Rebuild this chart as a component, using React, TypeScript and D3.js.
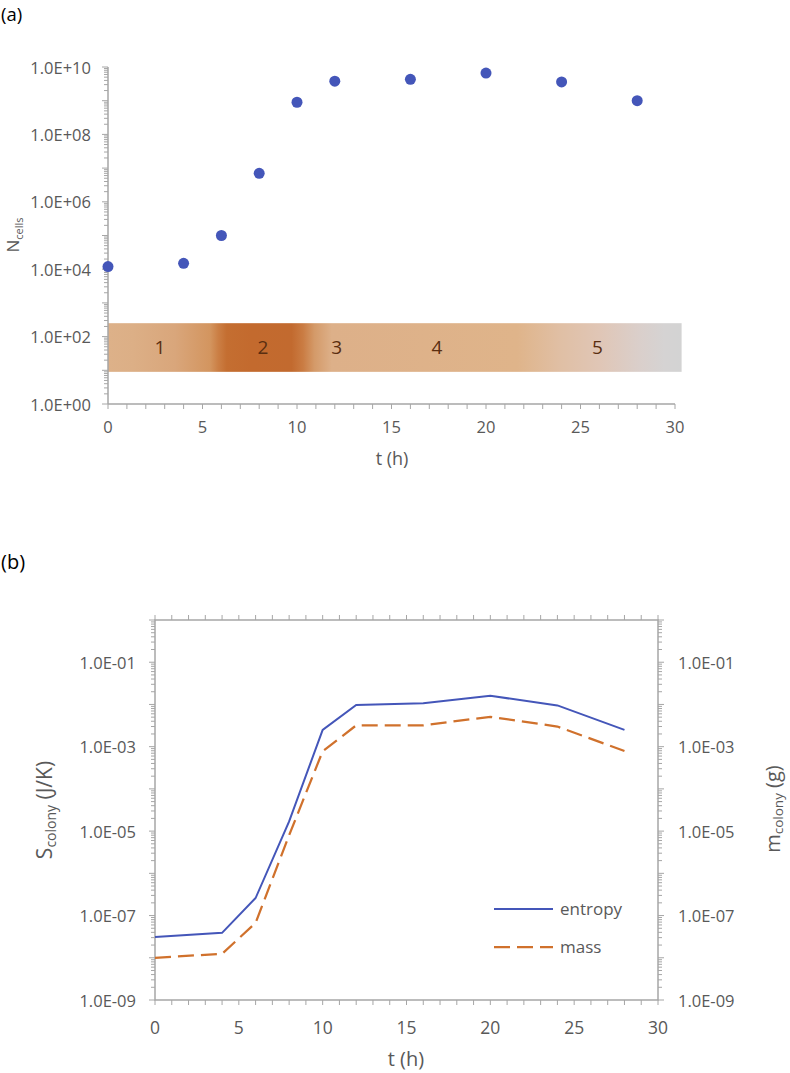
import React from "react";
import * as d3 from "d3";

// ---------- data ----------
const timesA = [0, 4, 6, 8, 10, 12, 16, 20, 24, 28];
const nCells = [1.2e4, 1.5e4, 1.0e5, 7.0e6, 9.0e8, 3.8e9, 4.3e9, 6.6e9, 3.6e9, 1.0e9];

const timesB = [0, 4, 6, 8, 10, 12, 16, 20, 24, 28];
const entropy = [3.1e-8, 3.9e-8, 2.6e-7, 1.7e-5, 2.5e-3, 9.7e-3, 1.07e-2, 1.6e-2, 9.5e-3, 2.5e-3];
const mass = [1.0e-8, 1.24e-8, 6.7e-8, 8.0e-6, 7.8e-4, 3.2e-3, 3.2e-3, 5.1e-3, 3.0e-3, 7.9e-4];

const xTicks = [0, 5, 10, 15, 20, 25, 30];
const yTicksA = [1, 1e2, 1e4, 1e6, 1e8, 1e10];
const yTicksB = [1e-9, 1e-7, 1e-5, 1e-3, 1e-1];

const phaseLabels = ["1", "2", "3", "4", "5"];
const phaseTimes = [2.75, 8.2, 12.1, 17.4, 25.9];
const phaseLabelValue = 49;
const bandRange = { t0: 0, t1: 30.35, top: 250, bottom: 9 };
const bandStops: [number, string][] = [
  [0, "#DDB189"],
  [0.044, "#DCAF86"],
  [0.117, "#D9A67B"],
  [0.178, "#D3955F"],
  [0.192, "#CB7F45"],
  [0.207, "#C46E31"],
  [0.25, "#C36A2E"],
  [0.32, "#C26A2F"],
  [0.34, "#CA7C43"],
  [0.36, "#D49A69"],
  [0.39, "#DDB089"],
  [0.713, "#DFB48A"],
  [0.787, "#E0BFA4"],
  [0.857, "#E0C6B6"],
  [0.927, "#DACFCB"],
  [0.97, "#D5D3D3"],
  [1, "#D3D3D3"],
];

const FONT = "'Open Sans', Lato, sans-serif";
const AXIS = "#A6A6A6";
const TXT = "#595959";
const BLUE = "#4456B9";
const ORANGE = "#D0712C";

const fmtE = (v: number) => {
  const e = Math.round(Math.log10(v));
  return "1.0E" + (e < 0 ? "-" : "+") + String(Math.abs(e)).padStart(2, "0");
};

function logMinor(lo: number, hi: number) {
  const out: { v: number; major: boolean }[] = [];
  for (let k = Math.round(Math.log10(lo)); k <= Math.round(Math.log10(hi)); k++) {
    for (let d = 1; d <= 9; d++) {
      const v = d * Math.pow(10, k);
      if (v >= lo * 0.999 && v <= hi * 1.001) out.push({ v, major: d === 1 });
    }
  }
  return out;
}

export default function App() {
  // ---- chart A ----
  const xA = d3.scaleLinear().domain([0, 30]).range([108, 675]);
  const yA = d3.scaleLog().domain([1, 1e10]).range([404, 67]);
  // ---- chart B ----
  const xB = d3.scaleLinear().domain([0, 30]).range([155, 658]);
  const yB = d3.scaleLog().domain([1e-9, 1]).range([1000, 620]);

  const lineB = d3
    .line<number>()
    .x((_, i) => xB(timesB[i]))
    .y((d) => yB(d));

  const hourTicks = d3.range(0, 31, 1);
  const minorA = logMinor(1, 1e10);
  const minorB = logMinor(1e-9, 1);

  return (
    <svg
      width={790}
      height={1073}
      style={{ position: "absolute", left: 0, top: 0, display: "block" }}
      fontFamily={FONT}
    >
      <defs>
        <linearGradient id="band" x1="0" x2="1" y1="0" y2="0">
          {bandStops.map(([o, c], i) => (
            <stop key={i} offset={o} stopColor={c} />
          ))}
        </linearGradient>
      </defs>
      <rect width={790} height={1073} fill="#fff" />

      {/* ================= (a) ================= */}
      <text x={1} y={21} fontSize={18.5} fill="#000">(a)</text>

      {/* band */}
      <rect
        x={xA(bandRange.t0)}
        y={yA(bandRange.top)}
        width={xA(bandRange.t1) - xA(bandRange.t0)}
        height={yA(bandRange.bottom) - yA(bandRange.top)}
        fill="url(#band)"
      />
      {phaseLabels.map((l, i) => (
        <text
          key={l}
          x={xA(phaseTimes[i])}
          y={yA(phaseLabelValue)}
          fontSize={19}
          fill="#5A2E10"
          textAnchor="middle"
          dominantBaseline="central"
        >
          {l}
        </text>
      ))}

      {/* y axis A */}
      <line x1={108} x2={108} y1={yA(1e10)} y2={yA(1)} stroke={AXIS} strokeWidth={1.5} />
      {minorA.map((t, i) => (
        <line
          key={i}
          x1={108}
          x2={108 - (t.major ? 6 : 4)}
          y1={yA(t.v)}
          y2={yA(t.v)}
          stroke={AXIS}
          strokeWidth={1}
        />
      ))}
      {yTicksA.map((v) => (
        <text
          key={v}
          x={91}
          y={yA(v)}
          fontSize={16.5}
          fill={TXT}
          textAnchor="end"
          dominantBaseline="central"
        >
          {fmtE(v)}
        </text>
      ))}
      <text
        transform={`translate(19, ${235}) rotate(-90)`}
        fontSize={17}
        fill={TXT}
        textAnchor="middle"
      >
        N<tspan fontSize={11} dy={4}>cells</tspan>
      </text>

      {/* x axis A */}
      <line x1={xA(0)} x2={xA(30)} y1={yA(1)} y2={yA(1)} stroke={AXIS} strokeWidth={1.5} />
      {hourTicks.map((t) => (
        <line
          key={t}
          x1={xA(t)}
          x2={xA(t)}
          y1={yA(1)}
          y2={yA(1) + 5}
          stroke={AXIS}
          strokeWidth={1}
        />
      ))}
      {xTicks.map((t) => (
        <text
          key={t}
          x={xA(t)}
          y={426}
          fontSize={16.5}
          fill={TXT}
          textAnchor="middle"
          dominantBaseline="central"
        >
          {t}
        </text>
      ))}
      <text x={392} y={458} fontSize={18} fill={TXT} textAnchor="middle" dominantBaseline="central">
        t (h)
      </text>

      {/* points */}
      {nCells.map((v, i) => (
        <circle key={i} cx={xA(timesA[i])} cy={yA(v)} r={5.5} fill={BLUE} />
      ))}

      {/* ================= (b) ================= */}
      <text x={1} y={569} fontSize={20} fill="#000">(b)</text>

      {/* frame */}
      <rect
        x={xB(0)}
        y={yB(1)}
        width={xB(30) - xB(0)}
        height={yB(1e-9) - yB(1)}
        fill="none"
        stroke={AXIS}
        strokeWidth={1.5}
      />
      {hourTicks.map((t) => (
        <g key={t}>
          <line x1={xB(t)} x2={xB(t)} y1={yB(1e-9)} y2={yB(1e-9) + 5} stroke={AXIS} />
          <line x1={xB(t)} x2={xB(t)} y1={yB(1)} y2={yB(1) - 5} stroke={AXIS} />
        </g>
      ))}
      {minorB.map((t, i) => (
        <g key={i}>
          <line
            x1={xB(0)}
            x2={xB(0) - (t.major ? 6 : 4)}
            y1={yB(t.v)}
            y2={yB(t.v)}
            stroke={AXIS}
          />
          <line
            x1={xB(30)}
            x2={xB(30) + (t.major ? 6 : 4)}
            y1={yB(t.v)}
            y2={yB(t.v)}
            stroke={AXIS}
          />
        </g>
      ))}
      {yTicksB.map((v) => (
        <g key={v}>
          <text x={136} y={yB(v)} fontSize={16.5} fill={TXT} textAnchor="end" dominantBaseline="central">
            {fmtE(v)}
          </text>
          <text x={678} y={yB(v)} fontSize={16.5} fill={TXT} textAnchor="start" dominantBaseline="central">
            {fmtE(v)}
          </text>
        </g>
      ))}
      {xTicks.map((t) => (
        <text
          key={t}
          x={xB(t)}
          y={1027}
          fontSize={17.5}
          fill={TXT}
          textAnchor="middle"
          dominantBaseline="central"
        >
          {t}
        </text>
      ))}
      <text x={406} y={1058} fontSize={20} fill={TXT} textAnchor="middle" dominantBaseline="central">
        t (h)
      </text>
      <text
        transform={`translate(52, 810) rotate(-90)`}
        fontSize={21}
        fill={TXT}
        textAnchor="middle"
      >
        S<tspan fontSize={14} dy={4}>colony</tspan>
        <tspan dy={-4}> (J/K)</tspan>
      </text>
      <text
        transform={`translate(780, 809) rotate(-90)`}
        fontSize={20}
        fill={TXT}
        textAnchor="middle"
      >
        m<tspan fontSize={13.5} dy={3}>colony</tspan>
        <tspan dy={-3}> (g)</tspan>
      </text>

      {/* lines */}
      <path d={lineB(entropy) || ""} fill="none" stroke={BLUE} strokeWidth={2} />
      <path
        d={lineB(mass) || ""}
        fill="none"
        stroke={ORANGE}
        strokeWidth={2.25}
        strokeDasharray="16 7"
      />

      {/* legend */}
      <line x1={494} x2={553} y1={909} y2={909} stroke={BLUE} strokeWidth={2} />
      <text x={560} y={908} fontSize={17} fill={TXT} dominantBaseline="central">entropy</text>
      <line
        x1={494}
        x2={553}
        y1={947}
        y2={947}
        stroke={ORANGE}
        strokeWidth={2.25}
        strokeDasharray="16 7"
      />
      <text x={560} y={946} fontSize={17} fill={TXT} dominantBaseline="central">mass</text>
    </svg>
  );
}
